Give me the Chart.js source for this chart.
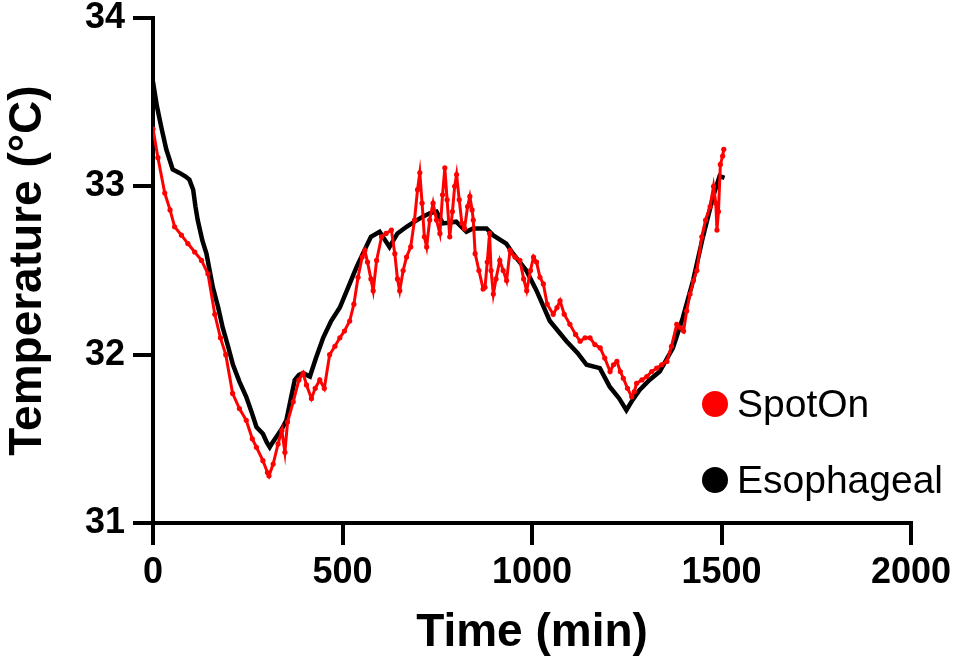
<!DOCTYPE html>
<html>
<head>
<meta charset="utf-8">
<script src="https://cdn.jsdelivr.net/npm/chart.js@4.4.1/dist/chart.umd.min.js"></script>
<style>
  body { margin: 0; background: #fff; }
  .wrap { position: relative; width: 957px; height: 671px; font-family: "Liberation Sans", Arial, sans-serif; }
  .key { position: absolute; left: 702px; height: 40px; display: flex; align-items: center; font-size: 39px; line-height: 40px; color: #000; white-space: nowrap; }
  .key .dot { width: 26px; height: 26px; border-radius: 50%; margin-right: 9px; }
</style>
</head>
<body>
<div class="wrap">
  <canvas id="temps"></canvas>
  <div class="key" style="top:384px"><span class="dot" style="background:#ff0000"></span>SpotOn</div>
  <div class="key" style="top:460px"><span class="dot" style="background:#000"></span>Esophageal</div>
</div>
<script>
// SpotOn sensor (min, °C)
const spotOnTime = [0, 13, 31, 45, 57, 75, 92, 110, 128, 145, 163, 178, 192, 210, 228, 246, 262, 273, 290, 302, 306,
  317, 330, 340, 348, 355, 370, 385, 396, 405, 418, 428, 440, 452, 466, 480, 493, 505, 519, 530, 541, 552, 559, 566,
  575, 581, 590, 603, 615, 629, 638, 645, 651, 660, 669, 680, 690, 698, 704, 710, 716, 722, 730, 739, 748, 757, 764,
  770, 776, 783, 790, 796, 801, 808, 815, 822, 830, 836, 842, 845, 850, 860, 871, 876, 882, 888, 892, 898, 905, 915,
  924, 933, 942, 955, 968, 978, 986, 996, 1004, 1012, 1021, 1030, 1040, 1056, 1066, 1074, 1085, 1100, 1115, 1127,
  1140, 1153, 1166, 1180, 1192, 1206, 1215, 1224, 1233, 1241, 1252, 1263, 1270, 1276, 1290, 1303, 1316, 1329, 1342,
  1356, 1368, 1382, 1392, 1400, 1408, 1417, 1426, 1435, 1448, 1458, 1470, 1479, 1485, 1488, 1492, 1497, 1503, 1506];
const spotOnTemp = [33.34, 33.17, 32.96, 32.86, 32.76, 32.71, 32.66, 32.61, 32.56, 32.48, 32.24, 32.10, 32.00, 31.77,
  31.68, 31.61, 31.50, 31.45, 31.37, 31.30, 31.28,
  31.35, 31.47, 31.55, 31.42, 31.60, 31.72, 31.85, 31.89, 31.82, 31.74, 31.80, 31.85, 31.80, 32.00, 32.05, 32.10, 32.14,
  32.20, 32.30, 32.46, 32.58, 32.62, 32.55,
  32.45, 32.38, 32.56, 32.70, 32.72, 32.74, 32.60, 32.45, 32.38, 32.50, 32.58, 32.64, 32.80, 32.98, 33.08, 32.90, 32.70,
  32.64, 32.80, 32.90, 32.80, 32.72, 32.95,
  33.11, 32.92, 32.70, 32.85, 33.00, 33.07, 32.92, 32.78, 32.75, 32.88, 32.94, 32.86, 32.80, 32.60, 32.50, 32.39, 32.40,
  32.55, 32.72, 32.50, 32.36, 32.45, 32.56,
  32.50, 32.44, 32.62, 32.58, 32.56, 32.45, 32.38, 32.50, 32.58, 32.55, 32.46, 32.42, 32.30, 32.24, 32.28, 32.32, 32.24,
  32.18, 32.12, 32.08,
  32.10, 32.10, 32.06, 32.04, 31.98, 31.90, 31.94, 31.96, 31.90, 31.86, 31.80, 31.75, 31.78, 31.83, 31.85, 31.87, 31.90,
  31.92, 31.94,
  31.96, 32.05, 32.18, 32.16, 32.14, 32.26, 32.36, 32.44, 32.50, 32.70, 32.80, 32.88, 33.00, 32.90, 32.74, 32.85, 33.13,
  33.18, 33.22];

// Esophageal probe (min, °C)
const esoTime = [0, 10, 22, 35, 52, 70, 85, 96, 106, 112, 118, 130, 141, 158, 172, 184, 198, 211, 228, 246, 260, 273,
  290, 300, 308, 316, 325, 340, 352, 362, 374, 385, 396, 405, 414, 430, 449, 470, 493, 515, 537, 560, 575, 598, 624,
  645, 669, 690, 712, 730, 748, 765, 800, 827, 844, 880, 897, 932, 950, 985, 1012, 1047, 1091, 1120, 1144, 1179, 1205,
  1230, 1249, 1265, 1284, 1310, 1337, 1372, 1398, 1425, 1451, 1478, 1495, 1508];
const esoTemp = [33.62, 33.48, 33.35, 33.22, 33.10, 33.08, 33.06, 33.04, 32.98, 32.88, 32.80, 32.68, 32.60, 32.40, 32.28,
  32.16, 32.05, 31.94, 31.84, 31.75, 31.66, 31.57,
  31.53, 31.48, 31.45, 31.48, 31.51, 31.56, 31.61, 31.72, 31.85, 31.88, 31.89, 31.88, 31.87, 31.98, 32.10, 32.20, 32.28,
  32.40, 32.52, 32.63, 32.70, 32.73, 32.64,
  32.72, 32.76, 32.79, 32.82, 32.84, 32.85, 32.78, 32.79, 32.73, 32.75, 32.75, 32.71, 32.66, 32.60, 32.50, 32.38, 32.20,
  32.08, 32.01, 31.94, 31.92, 31.81,
  31.74, 31.67, 31.73, 31.79, 31.85, 31.90, 32.04, 32.22, 32.44, 32.70, 32.94, 33.06, 33.05];

const xTicks = [0, 500, 1000, 1500, 2000];
const yTicks = [31, 32, 33, 34];

const pairs = (xs, ys) => xs.map((x, i) => ({ x: x, y: ys[i] }));

const tickFont = { family: 'Liberation Sans, Arial, sans-serif', size: 36, weight: 'bold', lineHeight: 1 };
const titleFont = { family: 'Liberation Sans, Arial, sans-serif', size: 46, weight: 'bold' };

new Chart(document.getElementById('temps'), {
  type: 'scatter',
  data: {
    datasets: [
      {
        label: 'SpotOn',
        data: pairs(spotOnTime, spotOnTemp),
        showLine: true,
        borderColor: '#ff0000',
        backgroundColor: '#ff0000',
        borderWidth: 3,
        pointRadius: 2.6,
        pointBorderWidth: 0,
        order: 0
      },
      {
        label: 'Esophageal',
        data: pairs(esoTime, esoTemp),
        showLine: true,
        borderColor: '#000',
        backgroundColor: '#000',
        borderWidth: 4.5,
        pointRadius: 0,
        order: 1
      }
    ]
  },
  options: {
    responsive: true,
    maintainAspectRatio: false,
    animation: false,
    layout: { autoPadding: false, padding: { top: 18, right: 46, left: 0, bottom: 0 } },
    plugins: { legend: { display: false }, tooltip: { enabled: false } },
    scales: {
      x: {
        type: 'linear',
        min: 0,
        max: 2000,
        afterFit: (scale) => {
          scale.height = 148
          scale.paddingLeft = 0
          scale.paddingRight = 0
        },
        afterBuildTicks: (scale) => { scale.ticks = xTicks.map(v => ({ value: v })) },
        border: { color: '#000', width: 4 },
        grid: { drawOnChartArea: false, color: '#000', lineWidth: 4, tickLength: 22 },
        ticks: { color: '#000', font: tickFont, padding: 10, maxRotation: 0, callback: (v) => String(v) },
        title: { display: true, text: 'Time (min)', color: '#000', font: titleFont, padding: { top: 0, bottom: 10 } }
      },
      y: {
        type: 'linear',
        min: 31,
        max: 34,
        afterFit: (scale) => {
          scale.width = 153
          scale.paddingTop = 0
          scale.paddingBottom = 0
        },
        afterBuildTicks: (scale) => { scale.ticks = yTicks.map(v => ({ value: v })) },
        border: { color: '#000', width: 4 },
        grid: { drawOnChartArea: false, color: '#000', lineWidth: 4, tickLength: 20 },
        ticks: { color: '#000', font: tickFont, padding: 8, callback: (v) => String(v) },
        title: { display: true, text: 'Temperature (°C)', color: '#000', font: titleFont, padding: { top: 1, bottom: 0 } }
      }
    }
  }
})
</script>
</body>
</html>
